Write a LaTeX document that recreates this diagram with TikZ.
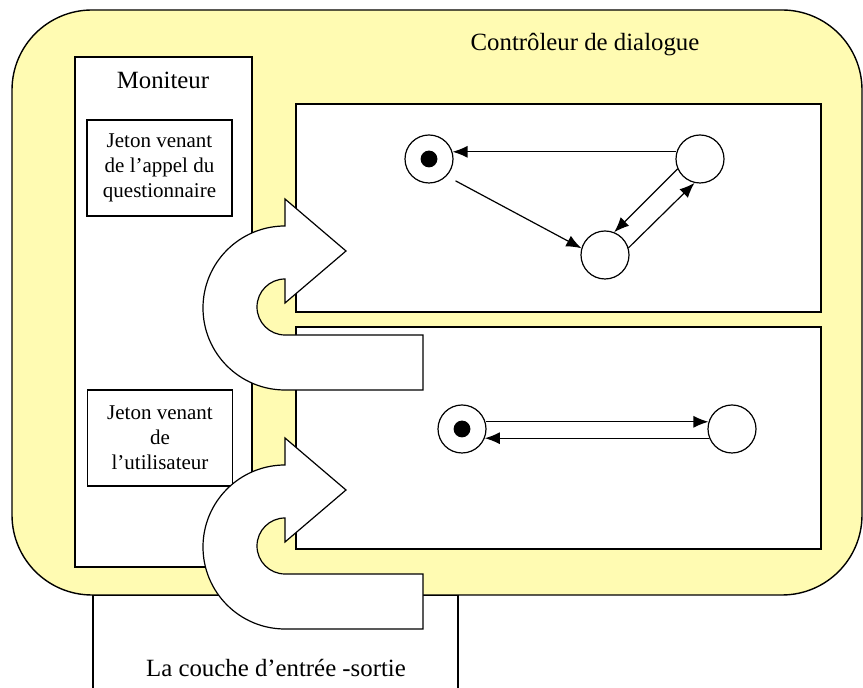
\documentclass[tikz,border=0pt]{standalone}
\usepackage{fontspec}
\setmainfont{Liberation Serif}
\usetikzlibrary{arrows.meta}
\definecolor{dlgyellow}{RGB}{255,251,178}
\tikzset{
  box/.style={draw, line width=0.7pt, fill=white},
  state/.style={circle, draw, line width=0.6pt, fill=white, minimum size=24pt, inner sep=0pt},
  initstate/.style={state, path picture={\fill[black] (path picture bounding box.center) circle (4.2pt);}},
  trans/.style={-{Latex[length=7.5pt,width=6pt]}, line width=0.6pt},
  uturn/.style={draw, line width=0.6pt, fill=white},
  jeton/.style={draw, line width=0.7pt, fill=white, minimum width=72.5pt, minimum height=48pt,
    align=center, inner sep=0pt, font=\fontsize{10.5}{12.4}\selectfont},
}

\begin{document}
\begin{tikzpicture}[x=0.5pt, y=-0.5pt, font=\fontsize{12.4}{14}\selectfont]

\clip (0,0) rectangle (863,688);
\fill[white] (0,0) rectangle (863,688);

\draw[box] (93,595) rectangle (458,720);
\draw[line width=0.7pt, fill=dlgyellow, rounded corners=40pt] (12,10) rectangle (862,595);

\draw[box] (75,57) rectangle (252,567);
\node (moniteur) at (163,80) {Moniteur};
\node[jeton] (jappel) at (159.5,168) {Jeton venant\\de l’appel du\\questionnaire};
\node[jeton] (jutil) at (160,438) {Jeton venant\\de\\l’utilisateur};

\node (controleur) at (585,45) {Contrôleur de dialogue};

\draw[box] (296,104) rectangle (821,312);
\draw[box] (296,327) rectangle (821,549);

\node[initstate] (qi) at (429,159) {};
\node[state] (qa) at (700,159) {};
\node[state] (qb) at (605,255) {};
\draw[trans] (qa.163) -- (qi.17);
\draw[trans, shorten <=5pt] (qi.-44) -- (qb.164);
\draw[trans] (qa.204) -- (qb.68);
\draw[trans] (qb.17) -- (qa.257);

\node[initstate] (ql) at (462,429) {};
\node[state] (qr) at (732,429) {};
\draw[trans] (ql.17) -- (qr.163);
\draw[trans] (qr.202) -- (ql.-22);

\node (couche) at (276,668) {La couche d’entrée -sortie};

\draw[uturn] (285,226) -- (285,199) -- (346,251) -- (285,303) -- (285,279)
  arc[start angle=90, end angle=270, radius=14pt] -- (423,335) -- (423,390) -- (285,390)
  arc[start angle=270, end angle=90, radius=41pt] -- cycle;
\draw[uturn] (285,465) -- (285,438) -- (346,490) -- (285,542) -- (285,518)
  arc[start angle=90, end angle=270, radius=14pt] -- (423,574) -- (423,629) -- (285,629)
  arc[start angle=270, end angle=90, radius=41pt] -- cycle;

\end{tikzpicture}
\end{document}
